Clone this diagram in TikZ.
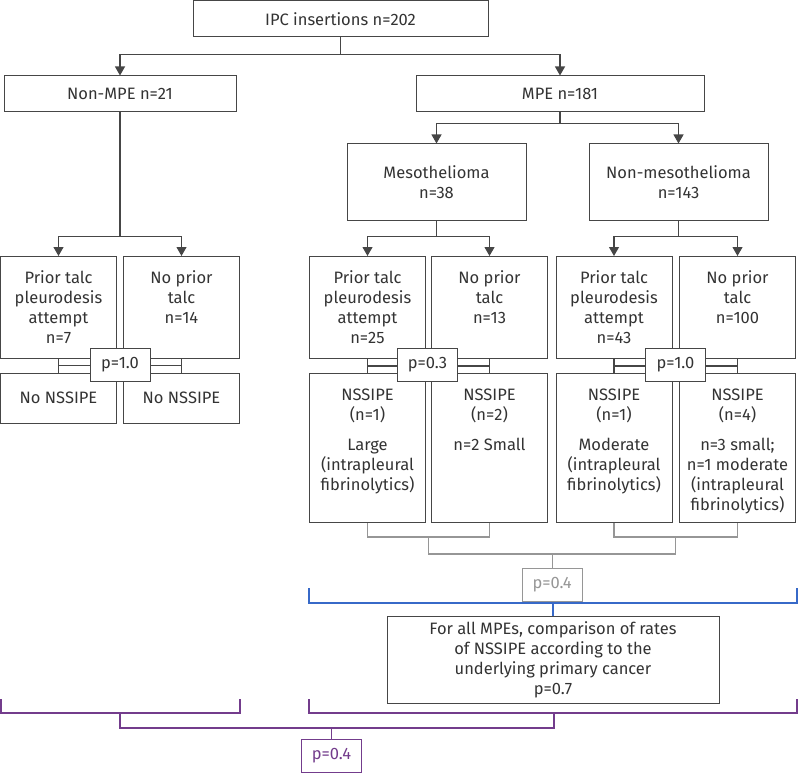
\documentclass[tikz,border=0pt]{standalone}
\usepackage{fontspec}
\setmainfont{Fira Sans}
\usetikzlibrary{arrows.meta,calc}
\definecolor{boxline}{RGB}{70,70,70}
\definecolor{brgray}{RGB}{150,150,150}
\definecolor{brblue}{RGB}{55,105,200}
\definecolor{brpurple}{RGB}{115,60,140}
\newcommand{\topcell}[2]{\parbox[c][#1][t]{116pt}{\centering\rule{0pt}{27pt}#2}}

\begin{document}
\begin{tikzpicture}[x=1pt,y=1pt,yscale=-1,xscale=1,
  box/.style={draw=boxline,line width=1pt,inner sep=0pt,text=black!80,font=\fontsize{16.5}{20}\selectfont},
  lnk/.style={draw=boxline,line width=1.1pt},
  arr/.style={lnk,-{Triangle[width=10pt,length=9pt]}},
  pbox/.style={box,minimum width=60pt,minimum height=33pt,fill=white},
  glnk/.style={draw=brgray,line width=1.2pt},
  blnk/.style={draw=brblue,line width=1.3pt},
  qlnk/.style={draw=brpurple,line width=1.3pt}
]
\useasboundingbox (0,0) rectangle (798,773);

% Text Node
\node [box,minimum width=295pt,minimum height=36pt] (ipc) at (340.5,19) {IPC insertions n=202};
% Text Node
\node [box,minimum width=232pt,minimum height=36pt] (nonmpe) at (120,94) {Non-MPE n=21};
% Text Node
\node [box,minimum width=288pt,minimum height=36pt] (mpe) at (560,94) {MPE n=181};
% Text Node
\node [box,align=center,minimum width=179pt,minimum height=76pt] (meso) at (436.5,182) {Mesothelioma\\n=38};
% Text Node
\node [box,align=center,minimum width=179pt,minimum height=76pt] (nonmeso) at (678.5,182) {Non-mesothelioma\\n=143};

% Text Node
\node [box,anchor=north] (nmprior) at (58.5,256) {\topcell{102pt}{Prior talc\\pleurodesis\\attempt\\n=7}};
% Text Node
\node [box,anchor=north] (nmnoprior) at (181.5,256) {\topcell{102pt}{No prior\\talc\\n=14}};
% Text Node
\node [box,anchor=north] (mprior) at (367.5,256) {\topcell{102pt}{Prior talc\\pleurodesis\\attempt\\n=25}};
% Text Node
\node [box,anchor=north] (mnoprior) at (489.5,256) {\topcell{102pt}{No prior\\talc\\n=13}};
% Text Node
\node [box,anchor=north] (nprior) at (614,256) {\topcell{102pt}{Prior talc\\pleurodesis\\attempt\\n=43}};
% Text Node
\node [box,anchor=north] (nnoprior) at (737.5,256) {\topcell{102pt}{No prior\\talc\\n=100}};

% Text Node
\node [box,minimum width=116pt,minimum height=50pt] (nmnsA) at (58.5,398) {No NSSIPE};
% Text Node
\node [box,minimum width=116pt,minimum height=50pt] (nmnsB) at (181.5,398) {No NSSIPE};
% Text Node
\node [box,anchor=north] (mnsA) at (367.5,373) {\topcell{149pt}{NSSIPE\\(n=1)\\[10pt]Large\\(intrapleural\\fibrinolytics)}};
% Text Node
\node [box,anchor=north] (mnsB) at (489.5,373) {\topcell{149pt}{NSSIPE\\(n=2)\\[10pt]n=2 Small}};
% Text Node
\node [box,anchor=north] (nnsA) at (614,373) {\topcell{149pt}{NSSIPE\\(n=1)\\[10pt]Moderate\\(intrapleural\\fibrinolytics)}};
% Text Node
\node [box,anchor=north] (nnsB) at (737.5,373) {\topcell{149pt}{NSSIPE\\(n=4)\\[10pt]n=3 small;\\n=1 moderate\\(intrapleural\\fibrinolytics)}};

% Text Node
\node [box,align=center,minimum width=332pt,minimum height=87pt] (allmpe) at (553,659.5) {For all MPEs, comparison of rates\\of NSSIPE according to the\\underlying primary cancer\\p=0.7};

%Straight Lines
\draw [lnk] (ipc.south) -- ++(0,17) coordinate (ipcsplit);
\draw [arr] (ipcsplit) -| (nonmpe.north);
\draw [arr] (ipcsplit) -| (mpe.north);
\draw [lnk] (nonmpe.south) -- ++(0,124) coordinate (nmsplit);
\draw [arr] (nmsplit) -| (nmprior.north);
\draw [arr] (nmsplit) -| (nmnoprior.north);
\draw [lnk] (mpe.south) -- ++(0,11) coordinate (mpesplit);
\draw [arr] (mpesplit) -| (meso.north);
\draw [arr] (mpesplit) -| (nonmeso.north);
\draw [lnk] (meso.south) -- ++(0,16) coordinate (msplit);
\draw [arr] (msplit) -| (mprior.north);
\draw [arr] (msplit) -| (mnoprior.north);
\draw [lnk] (nonmeso.south) -- ++(0,16) coordinate (nsplit);
\draw [arr] (nsplit) -| (nprior.north);
\draw [arr] (nsplit) -| (nnoprior.north);

%Straight Lines
\draw [lnk] (nmprior.south) -- (nmnsA.north);
\draw [lnk] (nmnoprior.south) -- (nmnsB.north);
\draw [lnk] ($(nmprior.south)!0.5!(nmnsA.north)$) -- ($(nmnoprior.south)!0.5!(nmnsB.north)$);
\draw [lnk] (mprior.south) -- (mnsA.north);
\draw [lnk] (mnoprior.south) -- (mnsB.north);
\draw [lnk] ($(mprior.south)!0.5!(mnsA.north)$) -- ($(mnoprior.south)!0.5!(mnsB.north)$);
\draw [lnk] (nprior.south) -- (nnsA.north);
\draw [lnk] (nnoprior.south) -- (nnsB.north);
\draw [lnk] ($(nprior.south)!0.5!(nnsA.north)$) -- ($(nnoprior.south)!0.5!(nnsB.north)$);

% Text Node
\node [pbox] (pnm) at (120,364.5) {p=1.0};
% Text Node
\node [pbox] (pm) at (427.5,364.5) {p=0.3};
% Text Node
\node [pbox] (pn) at (675.5,364.5) {p=1.0};

%Straight Lines
\draw [glnk] (mnsA.south) -- ++(0,14) -| (mnsB.south);
\draw [glnk] (nnsA.south) -- ++(0,14) -| (nnsB.south);
\coordinate (mbr) at ($(mnsA.south)!0.5!(mnsB.south)+(0,14)$);
\coordinate (nbr) at ($(nnsA.south)!0.5!(nnsB.south)+(0,14)$);
\draw [glnk] (mbr) -- ++(0,17) -| (nbr);
\coordinate (allbr) at ($(mbr)!0.5!(nbr)+(0,17)$);

% Text Node
\node [pbox,draw=brgray,text=brgray,anchor=north] (pgray) at ($(allbr)+(0,14)$) {p=0.4};
\draw [glnk] (allbr) -- (pgray.north);

%Straight Lines
\coordinate (bl) at (309,588);
\coordinate (br) at (797,588);
\draw [blnk] (bl) -- ++(0,15) -| (br);
\draw [blnk] (allmpe.north |- 0,603) -- (allmpe.north);

%Straight Lines
\coordinate (ql) at (1,699);
\coordinate (qm) at (240,699);
\coordinate (qn) at (309,699);
\coordinate (qr) at (797,699);
\draw [qlnk] (ql) -- ++(0,14) -| (qm);
\draw [qlnk] (qn) -- ++(0,14) -| (qr);
\draw [qlnk] (120,713) -- ++(0,15) -| (554,713);

% Text Node
\node [pbox,draw=brpurple,text=brpurple] (ppurple) at (331.5,755.5) {p=0.4};
\draw [qlnk] (ppurple.north |- 0,728) -- (ppurple.north);

\end{tikzpicture}
\end{document}
